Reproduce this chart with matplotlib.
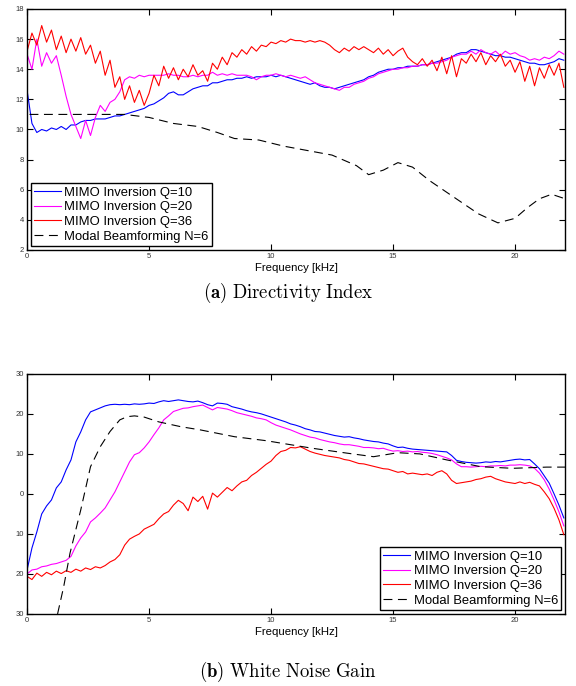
import numpy as np
import matplotlib
matplotlib.use("Agg")
import matplotlib.pyplot as plt

plt.rcParams['font.family'] = ['Liberation Sans', 'DejaVu Sans']
plt.rcParams['mathtext.fontset'] = 'cm'

# frequency grid of the read-off values [kHz]
freq = np.linspace(0, 22, 111)

# Directivity index [dB]
di_q10 = [12.6, 10.4, 9.8, 10.0, 9.9, 10.1, 10.0, 10.2, 10.0, 10.3,
          10.3, 10.5, 10.6, 10.6, 10.7, 10.7, 10.7, 10.8, 10.9, 10.9,
          11.0, 11.1, 11.2, 11.3, 11.4, 11.6, 11.7, 11.9, 12.1, 12.4,
          12.5, 12.3, 12.3, 12.5, 12.7, 12.8, 12.9, 12.9, 13.1, 13.1,
          13.2, 13.3, 13.3, 13.4, 13.4, 13.5, 13.4, 13.5, 13.5, 13.5,
          13.6, 13.5, 13.6, 13.5, 13.4, 13.3, 13.2, 13.1, 13.0, 13.1,
          12.9, 12.8, 12.8, 12.7, 12.8, 12.9, 13.0, 13.1, 13.2, 13.3,
          13.5, 13.6, 13.8, 13.9, 14.0, 14.0, 14.1, 14.1, 14.2, 14.2,
          14.2, 14.3, 14.3, 14.4, 14.5, 14.6, 14.7, 14.8, 15.0, 15.1,
          15.1, 15.3, 15.3, 15.2, 15.1, 15.0, 14.9, 14.9, 14.8, 14.8,
          14.7, 14.6, 14.5, 14.4, 14.4, 14.3, 14.3, 14.4, 14.5, 14.7,
          14.6]
di_q20 = [15.0, 14.0, 16.0, 14.2, 15.1, 14.4, 14.9, 13.6, 12.2, 11.0,
          10.2, 9.4, 10.6, 9.6, 10.8, 11.6, 11.2, 11.8, 12.0, 12.5,
          13.3, 13.5, 13.4, 13.6, 13.5, 13.6, 13.6, 13.6, 13.6, 13.7,
          13.6, 13.6, 13.5, 13.5, 13.6, 13.5, 13.6, 13.6, 13.8, 13.6,
          13.7, 13.6, 13.7, 13.6, 13.6, 13.6, 13.5, 13.3, 13.5, 13.6,
          13.6, 13.7, 13.6, 13.5, 13.6, 13.5, 13.4, 13.5, 13.3, 13.1,
          13.0, 12.9, 12.8, 12.7, 12.6, 12.8, 12.8, 13.0, 13.1, 13.2,
          13.4, 13.5, 13.7, 13.8, 13.9, 14.0, 14.0, 14.1, 14.1, 14.2,
          14.2, 14.3, 14.3, 14.4, 14.4, 14.5, 14.6, 14.8, 14.9, 15.0,
          15.0, 15.2, 15.0, 15.3, 15.1, 15.0, 15.2, 14.9, 15.2, 15.0,
          15.1, 14.9, 14.8, 14.6, 14.7, 14.6, 14.8, 14.7, 14.9, 15.2,
          15.0]
di_q36 = [15.2, 16.4, 15.6, 16.9, 15.8, 16.6, 15.3, 16.2, 15.1, 16.0,
          15.2, 16.1, 15.0, 15.6, 14.4, 15.2, 13.6, 14.6, 12.8, 13.5,
          12.0, 12.9, 11.8, 12.6, 11.6, 12.4, 13.6, 12.9, 14.2, 13.4,
          14.1, 13.3, 14.0, 13.5, 14.3, 13.6, 13.9, 13.2, 14.4, 14.0,
          14.8, 14.3, 15.1, 14.8, 15.3, 15.0, 15.5, 15.2, 15.6, 15.5,
          15.8, 15.7, 15.9, 15.8, 16.0, 15.9, 15.9, 15.8, 15.9, 15.8,
          15.9, 15.8, 15.6, 15.3, 15.1, 15.4, 15.2, 15.5, 15.3, 15.5,
          15.3, 15.1, 15.4, 15.0, 15.3, 14.9, 15.2, 15.4, 14.8, 14.5,
          14.3, 14.7, 14.2, 14.6, 13.9, 14.8, 13.7, 14.9, 13.5, 14.7,
          14.4, 15.0, 14.5, 15.1, 14.3, 14.9, 14.5, 15.0, 14.2, 14.6,
          13.8, 14.5, 13.2, 14.2, 12.9, 14.1, 13.4, 14.3, 13.6, 14.4,
          12.8]
di_modal_f = [0.1, 1, 2, 3, 4, 4.5, 5, 6, 7, 7.8, 8.5, 9.5, 10.5, 11.5, 12.5,
              13.5, 14.0, 14.6, 15.2, 15.8, 16.5, 17.5, 18.5, 19.3, 20.0,
              20.5, 21.0, 21.5, 22.05]
di_modal = [11.0, 11.0, 11.0, 11.0, 11.0, 10.9, 10.8, 10.4, 10.2, 9.8, 9.4,
            9.3, 8.9, 8.6, 8.3, 7.6, 7.0, 7.3, 7.8, 7.5, 6.6, 5.5, 4.4, 3.8,
            4.1, 4.8, 5.4, 5.7, 5.4]

# White noise gain [dB]
wng_q10 = [-19.0, -13.5, -9.5, -5.0, -3.0, -1.5, 1.5, 3.0, 6.0, 8.5,
           13.0, 15.5, 18.5, 20.5, 21.0, 21.5, 22.0, 22.3, 22.4, 22.3,
           22.4, 22.3, 22.5, 22.4, 22.5, 22.7, 22.6, 23.0, 23.3, 23.1,
           23.3, 23.5, 23.3, 23.1, 23.0, 23.2, 22.8, 22.3, 22.0, 22.7,
           22.6, 22.4, 21.8, 21.5, 21.2, 20.8, 20.5, 20.3, 20.0, 19.6,
           19.2, 18.8, 18.4, 18.0, 17.5, 17.2, 16.8, 16.3, 16.0, 15.6,
           15.5, 15.2, 14.9, 14.6, 14.4, 14.2, 14.3, 14.0, 13.8, 13.5,
           13.3, 13.1, 13.0, 12.7, 12.5, 12.0, 11.6, 11.7, 11.4, 11.2,
           11.1, 11.0, 10.9, 10.8, 10.7, 10.6, 10.5, 9.6, 8.4, 8.1,
           7.9, 7.8, 7.7, 7.8, 8.0, 7.9, 8.1, 8.0, 8.2, 8.4,
           8.6, 8.7, 8.5, 8.6, 7.5, 6.3, 4.5, 2.7, 0.0, -2.8,
           -6.0]
wng_q20 = [-20.0, -19.0, -18.8, -18.2, -18.0, -17.6, -17.4, -17.0, -16.6, -15.6,
           -13.0, -11.0, -9.5, -7.0, -6.0, -4.8, -3.5, -1.5, 0.5, 3.0,
           5.5, 8.0, 9.8, 10.3, 11.5, 13.0, 14.8, 16.5, 18.5, 19.5,
           20.6, 21.0, 21.4, 21.5, 21.8, 22.0, 22.2, 21.6, 21.0, 21.6,
           21.4, 21.2, 20.8, 20.3, 20.0, 19.7, 19.4, 19.0, 18.8, 18.5,
           17.8, 17.2, 16.8, 16.4, 16.0, 15.5, 15.0, 14.6, 14.2, 14.0,
           13.6, 13.3, 13.0, 12.8, 12.5, 12.3, 12.3, 12.1, 11.9, 11.6,
           11.6, 11.5, 11.3, 11.4, 11.0, 10.7, 10.8, 10.6, 10.7, 10.5,
           10.6, 10.4, 10.3, 10.1, 9.8, 9.4, 9.0, 8.5, 7.5, 6.8,
           6.8, 6.7, 6.8, 6.9, 6.8, 7.0, 7.0, 7.1, 7.0, 7.2,
           7.2, 7.3, 7.2, 7.0, 6.4, 5.2, 3.5, 1.2, -1.5, -4.5,
           -8.0]
wng_q36 = [-20.6, -21.4, -19.8, -20.6, -19.6, -20.2, -19.3, -19.9, -19.2, -19.6,
           -18.8, -19.3, -18.5, -18.9, -18.2, -18.5, -17.9, -17.0, -16.4, -15.2,
           -12.8, -11.3, -10.6, -10.0, -8.8, -8.2, -7.6, -6.2, -5.0, -4.4,
           -2.8, -1.6, -2.4, -4.2, -0.8, -1.9, -0.6, -3.8, 0.2, -0.8,
           0.4, 1.6, 0.8, 2.0, 3.0, 3.4, 4.6, 5.4, 6.4, 7.4,
           8.2, 9.6, 10.6, 10.9, 11.6, 11.5, 11.8, 11.2, 10.6, 10.2,
           9.9, 9.6, 9.4, 9.2, 9.0, 8.6, 8.4, 8.0, 7.6, 7.5,
           7.2, 6.9, 6.6, 6.3, 6.2, 5.8, 5.4, 5.6, 5.0, 5.2,
           5.0, 4.8, 5.0, 4.6, 5.4, 5.8, 5.0, 3.4, 2.6, 2.8,
           3.0, 3.2, 3.6, 3.8, 4.2, 4.4, 3.8, 3.4, 3.0, 2.8,
           2.6, 3.0, 2.6, 2.9, 2.4, 2.0, 0.5, -1.2, -3.6, -6.5,
           -10.2]
wng_modal_f = [1.25, 1.5, 1.76, 2.2, 2.6, 3.0, 3.4, 3.8, 4.1, 4.4, 4.8, 5.4,
               6.3, 7.1, 8.5, 9.8, 10.4, 11.7, 13.1, 14.2, 15.2, 16.1, 17.2,
               18.6, 19.9, 21.3, 22.05]
wng_modal = [-30, -23.2, -14.8, -4.0, 6.8, 11.8, 15.6, 18.5, 19.3, 19.5, 19.2,
             18.0, 16.8, 16.0, 14.3, 13.3, 12.7, 11.4, 10.2, 9.3, 10.3, 10.0,
             8.5, 6.8, 6.4, 6.7, 6.7]

labels = ["MIMO Inversion Q=10", "MIMO Inversion Q=20",
          "MIMO Inversion Q=36", "Modal Beamforming N=6"]
colors = ["#0000ff", "#ff00ff", "#ff0000", "black"]

wng_ticks = [-30, -20, -10, 0, 10, 20, 30]
wng_ticklabels = ["30", "20", "10", "0", "10", "20", "30"]

fig = plt.figure(figsize=(5.76, 6.86), dpi=100)
ax1 = fig.add_axes([0.047, 0.6356, 0.934, 0.3513])
ax2 = fig.add_axes([0.047, 0.105, 0.934, 0.35])


def style_axes(ax):
    ax.set_xlim(0, 22.05)
    ax.set_xticks([0, 5, 10, 15, 20])
    ax.tick_params(direction='in', length=4, width=0.8, labelsize=5.5,
                   top=True, right=True, pad=2, labelcolor='#333333')
    for s in ax.spines.values():
        s.set_linewidth(1.0)
    ax.set_xlabel("Frequency [kHz]", fontsize=8.2, labelpad=2)


dash = (0, (8, 5))

ax1.plot(freq, di_q10, color=colors[0], lw=0.8, label=labels[0])
ax1.plot(freq, di_q20, color=colors[1], lw=0.8, label=labels[1])
ax1.plot(freq, di_q36, color=colors[2], lw=0.8, label=labels[2])
ax1.plot(di_modal_f, di_modal, color=colors[3], lw=0.8, ls=dash, label=labels[3])
ax1.set_ylim(2, 18)
ax1.set_yticks(range(2, 19, 2))
style_axes(ax1)

ax2.plot(freq, wng_q10, color=colors[0], lw=0.8, label=labels[0])
ax2.plot(freq, wng_q20, color=colors[1], lw=0.8, label=labels[1])
ax2.plot(freq, wng_q36, color=colors[2], lw=0.8, label=labels[2])
ax2.plot(wng_modal_f, wng_modal, color=colors[3], lw=0.8, ls=dash, label=labels[3])
ax2.set_ylim(-30, 30)
ax2.set_yticks(wng_ticks)
ax2.set_yticklabels(wng_ticklabels)
style_axes(ax2)

for ax, loc in [(ax1, 'lower left'), (ax2, 'lower right')]:
    leg = ax.legend(loc=loc, fontsize=9.4, handlelength=2.05, handletextpad=0.25,
                    labelspacing=0.2, borderpad=0.25, borderaxespad=0.3,
                    fancybox=False, framealpha=1, edgecolor='black')
    leg.get_frame().set_linewidth(1.0)

fig.text(0.5, 1 - 293 / 686, r"$\mathbf{(a)}\ \mathrm{Directivity\ Index}$",
         ha='center', va='center', fontsize=13.5)
fig.text(0.5, 1 - 672 / 686, r"$\mathbf{(b)}\ \mathrm{White\ Noise\ Gain}$",
         ha='center', va='center', fontsize=13.5)

fig.savefig("out.png", dpi=100)
